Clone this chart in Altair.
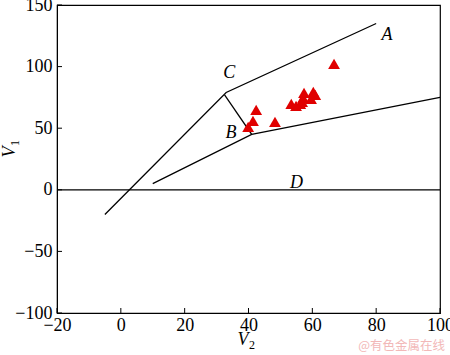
import altair as alt
import pandas as pd

# Boundary lines (V2, V1)
line_id = ["upper", "upper", "upper", "cb", "cb", "lower", "lower", "lower", "zero", "zero"]
line_ord = [0, 1, 2, 0, 1, 0, 1, 2, 0, 1]
line_v2 = [-5, 33, 80, 32.5, 41, 10, 41, 100, -20, 100]
line_v1 = [-20, 79, 135, 77, 45, 5, 45, 75, 0, 0]

# Data points (triangles)
pt_v2 = [66.8, 42.4, 41.4, 39.9, 48.3, 53.4, 54.9, 56.8, 57.4, 57.1, 60.3, 59.6, 60.9, 56.2]
pt_v1 = [102.3, 64.9, 56.0, 51.1, 55.2, 69.8, 68.2, 71.4, 78.7, 74.7, 79.5, 73.9, 77.1, 69.8]

# Region labels
lab_text = ["A", "B", "C", "D"]
lab_v2 = [83.4, 34.5, 34.0, 55.0]
lab_v1 = [125.8, 46.0, 95.0, 5.5]

xticks = [-20, 0, 20, 40, 60, 80, 100]
yticks = [-100, -50, 0, 50, 100, 150]

W, H = 383, 308
FONT = "Liberation Serif"

lines = pd.DataFrame({"id": line_id, "o": line_ord, "v2": line_v2, "v1": line_v1})
pts = pd.DataFrame({"v2": pt_v2, "v1": pt_v1})
labs = pd.DataFrame({"t": lab_text, "v2": lab_v2, "v1": lab_v1})
xt = pd.DataFrame({"v": xticks})
yt = pd.DataFrame({"v": yticks})

xs = alt.Scale(domain=[-20, 100], nice=False, zero=False)
ys = alt.Scale(domain=[-100, 150], nice=False, zero=False)

xax = alt.Axis(values=xticks, title=None, labelFlush=False, labelPadding=3)
yax = alt.Axis(values=yticks, title=None, labelPadding=5)

base_lines = alt.Chart(lines).mark_line(color="black", strokeWidth=1.3).encode(
    x=alt.X("v2:Q", scale=xs, axis=xax),
    y=alt.Y("v1:Q", scale=ys, axis=yax),
    detail="id:N",
    order="o:Q",
)

points = alt.Chart(pts).mark_point(shape="triangle-up", filled=True, color="#e00000",
                                   size=140, opacity=1).encode(
    x=alt.X("v2:Q", scale=xs), y=alt.Y("v1:Q", scale=ys))

labels = alt.Chart(labs).mark_text(font=FONT, fontStyle="italic", fontSize=18,
                                   color="black").encode(
    x=alt.X("v2:Q", scale=xs), y=alt.Y("v1:Q", scale=ys), text="t:N")

xtick_rules = alt.Chart(xt).mark_rule(color="black", strokeWidth=1).encode(
    x=alt.X("v:Q", scale=xs), y=alt.value(H), y2=alt.value(H - 5))
ytick_rules = alt.Chart(yt).mark_rule(color="black", strokeWidth=1).encode(
    y=alt.Y("v:Q", scale=ys), x=alt.value(0), x2=alt.value(5))

ttl = pd.DataFrame({"a": [0]})
xt_v = alt.Chart(ttl).mark_text(font=FONT, fontStyle="italic", fontSize=18, color="black").encode(
    x=alt.value(186), y=alt.value(335), text=alt.value("V"))
xt_s = alt.Chart(ttl).mark_text(font=FONT, fontSize=12, color="black").encode(
    x=alt.value(195), y=alt.value(340), text=alt.value("2"))
yt_v = alt.Chart(ttl).mark_text(font=FONT, fontStyle="italic", fontSize=18, color="black",
                                angle=270).encode(
    x=alt.value(-47), y=alt.value(147), text=alt.value("V"))
yt_s = alt.Chart(ttl).mark_text(font=FONT, fontSize=12, color="black", angle=270).encode(
    x=alt.value(-42), y=alt.value(138), text=alt.value("1"))
wm = alt.Chart(ttl).mark_text(font="Noto Sans CJK SC", fontSize=12.5, color="#f2b8b8",
                              align="right").encode(
    x=alt.value(388), y=alt.value(341), text=alt.value("@有色金属在线"))

chart = alt.layer(base_lines, xtick_rules, ytick_rules, points, labels,
                  xt_v, xt_s, yt_v, yt_s, wm).properties(
    width=W, height=H,
    autosize=alt.AutoSizeParams(type="none"),
    padding={"left": 57, "top": 5, "right": 10, "bottom": 42},
    background="white",
).configure_view(stroke="black", strokeWidth=1.2).configure_axis(
    labelFont=FONT, labelFontSize=18, labelColor="black", domainColor="black",
    ticks=False, grid=False,
)

chart.save("out.html", embed_options={"renderer": "svg", "actions": False})
